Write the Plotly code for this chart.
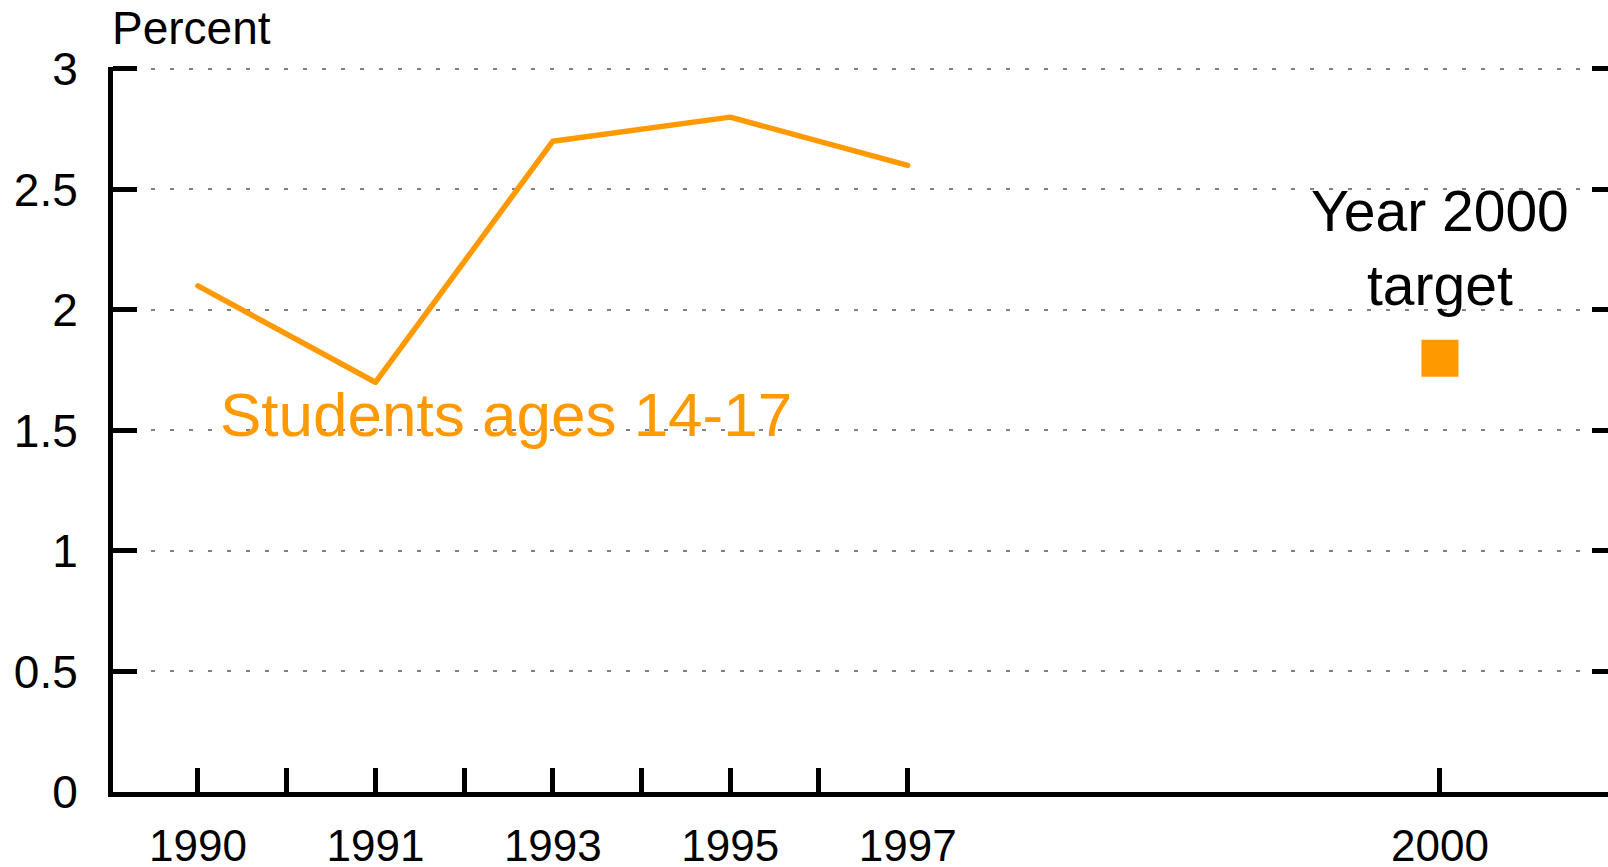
import plotly.graph_objects as go

# ---- data ----
years = ["1990", "1991", "1993", "1995", "1997"]
percent = [2.1, 1.7, 2.7, 2.8, 2.6]
target_year = "2000"
target_value = 1.8
y_ticks = [0, 0.5, 1, 1.5, 2, 2.5, 3]
y_ticklabels = ["0", "0.5", "1", "1.5", "2", "2.5", "3"]

ORANGE = "#FF9900"
FONT = "Liberation Sans, Arial, Helvetica, sans-serif"

# index-based x positions (years are unevenly spaced on the original chart)
xs = [i + 1 for i in range(len(years))]
target_x = 8

tickvals, ticktext = [], []
for i, yr in enumerate(years):
    tickvals.append(xs[i]); ticktext.append(yr)
    if i < len(years) - 1:
        tickvals.append(xs[i] + 0.5); ticktext.append("")
tickvals.append(target_x); ticktext.append(target_year)

fig = go.Figure()
fig.add_trace(go.Scatter(x=xs, y=percent, mode="lines",
                         line=dict(color=ORANGE, width=5.5),
                         hoverinfo="skip", showlegend=False))
fig.add_trace(go.Scatter(x=[target_x], y=[target_value], mode="markers",
                         marker=dict(symbol="square", size=37, color=ORANGE,
                                     line=dict(width=0)),
                         hoverinfo="skip", showlegend=False))
# invisible trace to carry the mirrored right-hand tick axis
fig.add_trace(go.Scatter(x=[target_x], y=[target_value], yaxis="y2",
                         mode="markers", marker=dict(opacity=0),
                         showlegend=False, hoverinfo="skip"))

fig.add_annotation(x=2.736, y=1.565, xref="x", yref="y",
                   text="Students ages 14-17", showarrow=False,
                   xanchor="center", yanchor="middle",
                   font=dict(family=FONT, size=62, color=ORANGE))
fig.add_annotation(x=target_x, y=2.257, xref="x", yref="y",
                   text="Year 2000<br>target", showarrow=False,
                   xanchor="center", yanchor="middle",
                   font=dict(family=FONT, size=57, color="black"))
fig.add_annotation(x=0, y=1, xref="paper", yref="paper",
                   text="Percent", showarrow=False,
                   xanchor="left", yanchor="bottom", yshift=11, xshift=-3,
                   font=dict(family=FONT, size=46, color="black"))

YMAX = 3.008  # small headroom so the top grid line / tick are drawn

fig.update_layout(
    width=1608, height=867,
    margin=dict(l=113, r=0, t=67, b=75, autoexpand=False),
    paper_bgcolor="white", plot_bgcolor="white",
    font=dict(family=FONT, size=44, color="black"),
    showlegend=False,
    xaxis=dict(range=[0.521, 8.947], tickmode="array", tickvals=tickvals,
               ticktext=ticktext, ticks="inside", ticklen=24, tickwidth=5,
               tickcolor="black", showline=True, linewidth=5, linecolor="black",
               showgrid=False, zeroline=False, ticklabelstandoff=11,
               automargin=False, tickfont=dict(size=44)),
    yaxis=dict(range=[0, YMAX], tickmode="array", tickvals=y_ticks,
               ticktext=y_ticklabels, ticks="inside", ticklen=24, tickwidth=5,
               tickcolor="black", showline=True, linewidth=5, linecolor="black",
               showgrid=True, gridcolor="#808080", gridwidth=1.5,
               griddash="4px,15px", zeroline=False, ticklabelstandoff=21,
               automargin=False, tickfont=dict(size=46)),
    yaxis2=dict(range=[0, YMAX], overlaying="y", side="right", tickmode="array",
                tickvals=y_ticks, ticks="inside", ticklen=16, tickwidth=5,
                tickcolor="black", showticklabels=False, showline=False,
                showgrid=False, zeroline=False, automargin=False),
)

fig.write_html(
    "out.html",
    config={"displayModeBar": False},
    post_script="document.body.style.margin='0';"
                "document.body.style.overflow='hidden';"
                "document.querySelectorAll('.scatterlayer .js-line')"
                ".forEach(function(e){e.style.strokeLinecap='round';"
                "e.style.strokeLinejoin='round';});",
)
